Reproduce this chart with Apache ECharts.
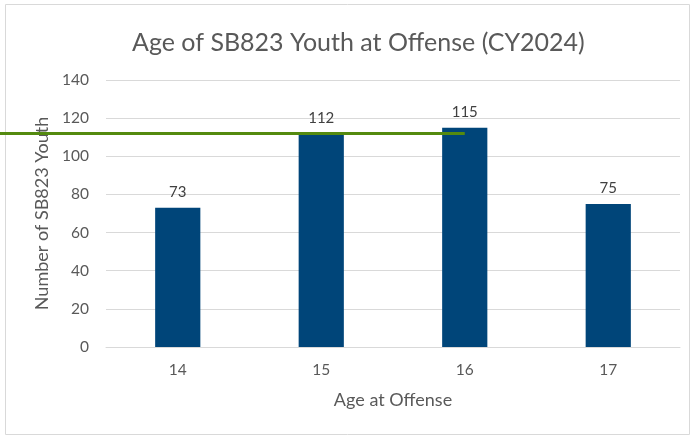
<!DOCTYPE html>
<html><head><meta charset="utf-8">
<script src="https://cdn.jsdelivr.net/npm/echarts@6/dist/echarts.min.js"></script>
<style>html,body{margin:0;padding:0;background:#fff}#c{width:695px;height:436px}</style>
</head><body><div id="c"></div>
<script>
const categories = ['14', '15', '16', '17'];
const youthCounts = [73, 112, 115, 75];
const yTicks = [0, 20, 40, 60, 80, 100, 120, 140];
const refLineValue = 112;
const refLineEndCategory = '16';

const chart = echarts.init(document.getElementById('c'));
const font = 'Lato, "Noto Sans", sans-serif';
chart.setOption({
  animation: false,
  title: {
    text: 'Age of SB823 Youth at Offense (CY2024)',
    left: 127, top: 25,
    textStyle: { fontFamily: font, fontSize: 25, fontWeight: 'normal', color: '#595959' }
  },
  graphic: [{
    type: 'rect', shape: { x: 5.5, y: 4.5, width: 684, height: 430 },
    style: { fill: 'none', stroke: '#d9d9d9', lineWidth: 1 }, silent: true, z: -1
  }],
  grid: { left: 106, right: 15, top: 80, bottom: 89 },
  xAxis: {
    type: 'category', data: categories,
    name: 'Age at Offense', nameLocation: 'middle', nameGap: 44,
    nameTextStyle: { fontFamily: font, fontSize: 18, color: '#595959' },
    axisLine: { lineStyle: { color: '#d9d9d9' } },
    axisTick: { show: false },
    axisLabel: { fontFamily: font, fontSize: 15.5, color: '#595959', margin: 15 }
  },
  yAxis: {
    type: 'value', min: yTicks[0], max: yTicks[yTicks.length - 1], interval: 20,
    name: 'Number of SB823 Youth', nameLocation: 'middle', nameGap: 53,
    nameTextStyle: { fontFamily: font, fontSize: 18, color: '#595959' },
    axisLine: { show: false }, axisTick: { show: false },
    splitLine: { lineStyle: { color: '#d9d9d9' } },
    axisLabel: { fontFamily: font, fontSize: 15.5, color: '#595959', margin: 17 }
  },
  series: [{
    type: 'bar', data: youthCounts, barWidth: '31.5%',
    clip: false,
    itemStyle: { color: '#004579' },
    label: { show: true, position: 'top', distance: 8, fontFamily: font, fontSize: 15, color: '#404040' },
    markLine: {
      silent: true, symbol: 'none', label: { show: false },
      lineStyle: { color: '#548a0f', width: 3, type: 'solid' },
      data: [[{ x: 0, yAxis: refLineValue }, { xAxis: refLineEndCategory, yAxis: refLineValue }]]
    }
  }]
});
</script></body></html>
